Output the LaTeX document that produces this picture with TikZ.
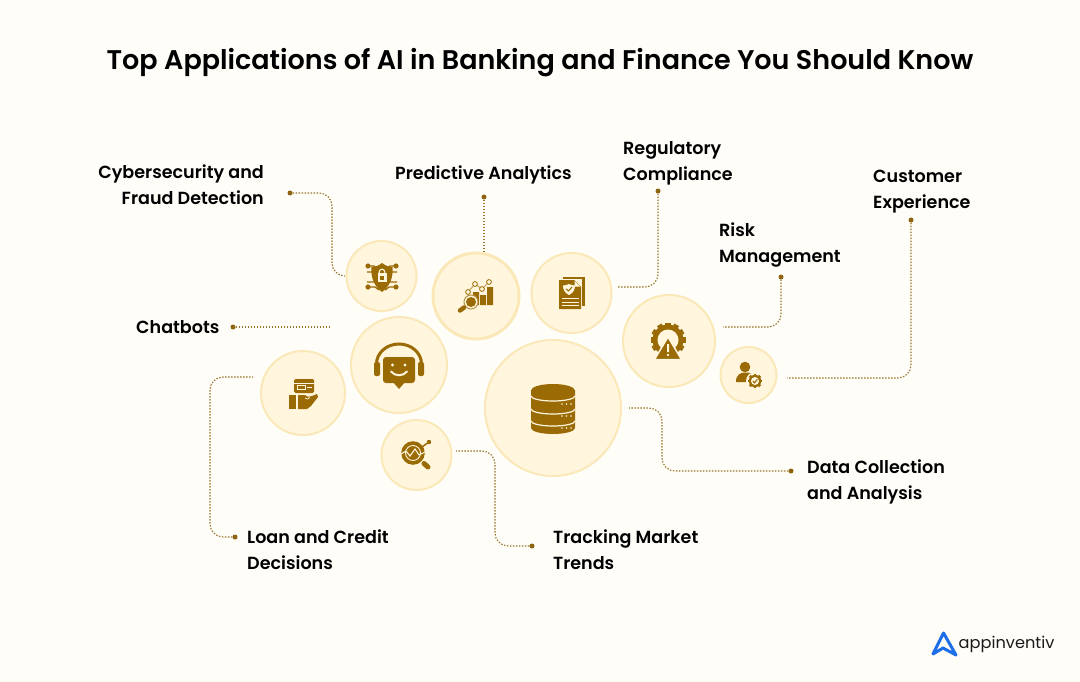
\documentclass[tikz,border=0pt]{standalone}
\usepackage{fontspec}
\setmainfont{Poppins}[BoldFont={* SemiBold}]
\definecolor{bgc}{HTML}{FFFDF8}
\definecolor{fillc}{HTML}{FFF6DD}
\definecolor{ringc}{HTML}{FBE8B8}
\definecolor{ic}{HTML}{9A6A04}
\definecolor{dotc}{HTML}{8F6410}
\definecolor{linec}{HTML}{97742A}
\definecolor{logoc}{HTML}{1C6FE8}
\tikzset{
 bub/.style={circle,draw=ringc,fill=fillc,line width=2pt,minimum size=#1*2pt,inner sep=0pt},
 pdot/.style={circle,fill=dotc,minimum size=5pt,inner sep=0pt},
 conn/.style={draw=linec,line width=1.15pt,dash pattern=on 1.4pt off 1.6pt,rounded corners=13pt},
 lab/.style={font=\bfseries\fontsize{17.55}{26}\selectfont,text=black,inner sep=0pt},
}
\begin{document}
\begin{tikzpicture}[x=1pt,y=-1pt]
\useasboundingbox (0,0) rectangle (1080,682);
\fill[bgc] (0,0) rectangle (1080,682);
% title
\node[font=\bfseries\fontsize{27}{32}\selectfont,inner sep=0pt] (title) at (540,63) {Top Applications of AI in Banking and Finance You Should Know};
% bubbles
\node[bub=35] (shield) at (381.5,276) {};
\node[bub=43,line width=3pt] (pred) at (476,296) {};
\node[bub=40] (docu) at (571.5,293) {};
\node[bub=46] (risk) at (669,341) {};
\node[bub=28] (cust) at (748.5,375) {};
\node[bub=68] (data) at (553,408) {};
\node[bub=48] (chat) at (399,365) {};
\node[bub=42] (loan) at (303,393) {};
\node[bub=35] (track) at (416.5,455) {};
% labels
\node[lab,align=right,anchor=north east] (l1) at (264,165) {Cybersecurity and\\Fraud Detection};
\node[lab,anchor=base west] (l2) at (395,179.5) {Predictive Analytics};
\node[lab,align=left,anchor=north west] (l3) at (623,141) {Regulatory\\Compliance};
\node[lab,align=left,anchor=north west] (l4) at (719,223) {Risk\\Management};
\node[lab,align=left,anchor=north west] (l5) at (873,170) {Customer\\Experience};
\node[lab,anchor=base west] (l6) at (136,333) {Chatbots};
\node[lab,align=left,anchor=north west] (l7) at (247,530) {Loan and Credit\\Decisions};
\node[lab,align=left,anchor=north west] (l8) at (553,530) {Tracking Market\\Trends};
\node[lab,align=left,anchor=north west] (l9) at (807,460) {Data Collection\\and Analysis};
% dots and free ends
\node[pdot] (d1) at (290,193) {};
\node[pdot] (d2) at (484,197) {};
\node[pdot] (d3) at (658,191) {};
\node[pdot] (d4) at (781,277) {};
\node[pdot] (d5) at (911,220) {};
\node[pdot] (d6) at (233,327) {};
\node[pdot] (d7) at (235,537) {};
\node[pdot] (d8) at (532,546) {};
\node[pdot] (d9) at (791,471) {};
\coordinate (s1) at (345,276);
\coordinate (s2) at (484,253);
\coordinate (s3) at (617,287);
\coordinate (s4) at (723,327);
\coordinate (s5) at (787,378);
\coordinate (s6) at (329,327);
\coordinate (s7) at (253,377);
\coordinate (s8) at (456,451);
\coordinate (s9) at (629,408);
\path[conn] (d1) -- (332,193) -- (332,276) -- (s1);
\path[conn] (d2) -- (s2);
\path[conn] (d3) -- (658,287) -- (s3);
\path[conn] (d4) -- (781,327) -- (s4);
\path[conn] (d5) -- (911,378) -- (s5);
\path[conn] (d6) -- (s6);
\path[conn] (d7) -- (210,537) -- (210,377) -- (s7);
\path[conn] (d8) -- (495,546) -- (495,451) -- (s8);
\path[conn] (d9) -- (662,471) -- (662,408) -- (s9);
% icon: shield
\begin{scope}[shift={(382,277)}]
 \draw[ic,line width=1.3pt] (-13,-11)--(-8,-11)--(-5,-8) (13,-11)--(8,-11)--(5,-8) (-13,10)--(-7,10)--(-3,13) (13,10)--(7,10)--(3,13) (-15,-5)--(15,-5) (-15,5)--(15,5);
 \fill[ic] (-14,-11) circle (2.6) (14,-11) circle (2.6) (-14,10) circle (2.6) (14,10) circle (2.6);
 \fill[ic] (0,-14) .. controls (4,-11) and (7,-10) .. (10.5,-10) .. controls (11.5,0) and (8,9) .. (0,15) .. controls (-8,9) and (-11.5,0) .. (-10.5,-10) .. controls (-7,-10) and (-4,-11) .. (0,-14) -- cycle;
 \draw[fillc,line width=1.1pt] (-2.8,-4) -- (-2.8,-5) arc (180:360:2.8) -- (2.8,-4);
 \fill[fillc] (-4.5,-4) rectangle (4.5,5);
 \fill[ic] (-1.8,-1) rectangle (1.8,2.5);
\end{scope}
% icon: predictive
\begin{scope}[shift={(476,296)}]
 \fill[ic] (-3,-4) rectangle (3,9) (4,-1) rectangle (10,9) (11,-9) rectangle (17,9);
 \draw[ic!60!fillc,line width=1pt] (-8,-4)--(-1,-12)--(6,-7)--(13,-14);
 \foreach \p in {(-8,-4),(-1,-12),(6,-7),(13,-14)} \draw[ic,line width=.8pt,fill=fillc] \p circle (2.4);
 \draw[ic!70!fillc,line width=1pt,fill=fillc] (-5,6) circle (7);
 \fill[ic] (-5,6) circle (5);
 \draw[ic,line width=4.5pt,line cap=round] (-12,11.5) -- (-16,14.5);
\end{scope}
% icon: doc
\begin{scope}[shift={(571,293)}]
 \fill[ic] (-8,-16) rectangle (14,13);
 \fill[fillc] (-13,-14) rectangle (11,17);
 \fill[ic] (-12,-13) -- (3,-13) -- (10,-6) -- (10,16) -- (-12,16) -- cycle;
 \fill[fillc] (3.6,-12) -- (9,-6.5) -- (3.6,-6.5) -- cycle;
 \fill[fillc] (-2,-9) .. controls (0,-8) and (2,-7.5) .. (4,-7.5) .. controls (4,-3) and (2,0) .. (-2,2) .. controls (-6,0) and (-8,-3) .. (-8,-7.5) .. controls (-6,-7.5) and (-4,-8) .. (-2,-9) -- cycle;
 \draw[ic,line width=1pt] (-5,-4) -- (-2.5,-2) -- (1,-6);
 \draw[fillc,line width=.9pt] (-9,5.5)--(8,5.5) (-9,9)--(8,9) (-9,12.5)--(8,12.5);
\end{scope}
% icon: risk
\begin{scope}[shift={(668,340)}]
 \fill[ic] (0,0) circle (15.5);
 \foreach \a in {-30,0,...,210} \fill[ic,rotate=\a] (14,-2.6) rectangle (17.5,2.6);
 \fill[fillc] (0,0) circle (10.5);
 \fill[fillc] (-19,12) rectangle (19,24);
 \draw[fillc,line width=1.5pt,fill=ic,line join=round] (0,-3) -- (13.5,19.5) -- (-13.5,19.5) -- cycle;
 \fill[fillc] (-1,4) rectangle (1,12) (0,15) circle (1.3);
\end{scope}
% icon: customer
\begin{scope}[shift={(748,375)}]
 \fill[ic] (-3,-8) circle (5.3);
 \fill[ic] (-12,7) .. controls (-12,-1) and (-7,-2.5) .. (-3,-2.5) .. controls (1,-2.5) and (4,-2) .. (6,0) -- (1,7) -- cycle;
 \fill[fillc] (7,6) circle (9);
 \fill[ic] (7,6) circle (6.2);
 \foreach \a in {0,45,...,315} \fill[ic,rotate around={\a:(7,6)}] (5.6,-1.4) rectangle (8.4,1);
 \fill[fillc] (7,6) circle (4);
 \draw[ic,line width=1.1pt] (4.8,6) -- (6.5,7.8) -- (9.4,4.3);
\end{scope}
% icon: database
\begin{scope}[shift={(553,409)}]
 \fill[ic] (-22,-18.5) arc (180:360:22 and 6.5) -- (22,19) arc (0:180:22 and 6) -- cycle;
 \draw[fillc,line width=1.2pt] (-22,-13) arc (180:0:22 and 5);
 \draw[fillc,line width=1.2pt] (-22,0) arc (180:0:22 and 5);
 \draw[fillc,line width=1.2pt] (-22,12) arc (180:0:22 and 5);
 \foreach \y in {-5,7,19} \foreach \x in {9,13.5,18} \fill[fillc] (\x,\y) circle (0.9);
\end{scope}
% icon: chatbot
\begin{scope}[shift={(399,365)}]
 \draw[ic,line width=3pt] (-22.5,-1) arc (180:360:22.5 and 20);
 \fill[ic,rounded corners=2pt] (-25,-3) rectangle (-19,11) (19,-3) rectangle (25,11);
 \fill[ic,rounded corners=3pt] (-16,-8) rectangle (16,18);
 \fill[ic] (-6,17) -- (6,17) -- (0,24) -- cycle;
 \fill[fillc] (-6.5,0) circle (1.7) (6,0) circle (1.7);
 \draw[fillc,line width=2pt,line cap=round] (-8,6.5) .. controls (-4,11.5) and (4,11.5) .. (8,6.5);
\end{scope}
% icon: loan
\begin{scope}[shift={(303,391)}]
 \fill[ic,rounded corners=1.5pt] (-9,-12) rectangle (11,2);
 \fill[fillc] (-9,-8.5) rectangle (11,-7.5);
 \draw[fillc,line width=.8pt] (-6,-5.5) rectangle (2,-1.5) (4,-3.5) -- (9,-3.5);
 \fill[ic] (-14,4) rectangle (-7,18);
 \fill[ic] (-5,4) -- (2,4) .. controls (3,6) and (5,6) .. (9,5) -- (14,3) -- (15,6) -- (8,15) -- (4,18) -- (-5,18) -- cycle;
 \draw[fillc,line width=.7pt] (2,7) .. controls (3,9) and (6,8) .. (7,6.5);
\end{scope}
% icon: tracking
\begin{scope}[shift={(413,453)}]
 \draw[ic,line width=1.5pt] (9,-6) -- (16,-11);
 \fill[ic] (16,-11) circle (2.2);
 \fill[ic] (0,0) circle (11.8);
 \draw[fillc,line width=.9pt] (0,0) circle (7.5);
 \draw[fillc,line width=1.1pt] (-12,1) -- (-7,-2) -- (-3,3) -- (2,-4) -- (6,2) -- (12,-1);
 \draw[ic,line width=5pt,line cap=round] (11,10.5) -- (15,14);
\end{scope}
% logo
\draw[logoc,line width=3pt,line join=round,line cap=round] (933,654) -- (943.5,633) -- (956,655) -- (943,648) -- cycle;
\node[font=\fontsize{16.2}{20}\selectfont,anchor=base west,inner sep=0pt,text=black!90] (logo) at (958.5,648) {appinventiv};
\end{tikzpicture}
\end{document}
